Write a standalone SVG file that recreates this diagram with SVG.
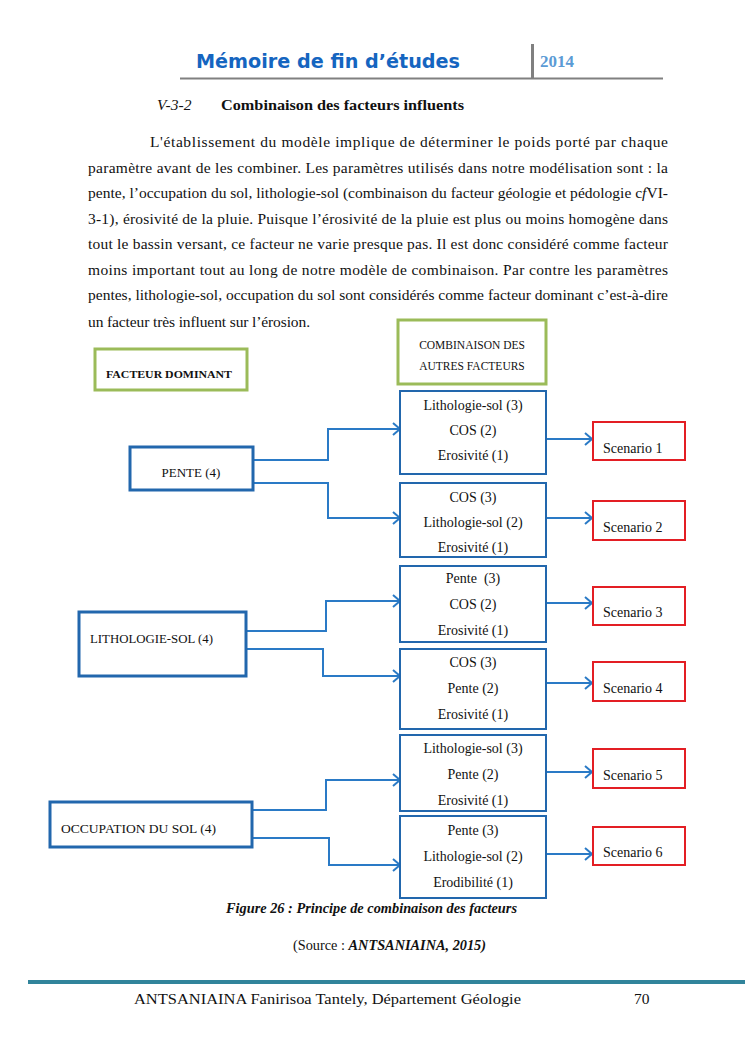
<svg xmlns="http://www.w3.org/2000/svg" width="745" height="1053" viewBox="0 0 745 1053">
<style>
.serif{font-family:"Liberation Serif","Times New Roman",serif;fill:#111}
.p{font-family:"Liberation Serif","Times New Roman",serif;font-size:15.5px;fill:#111}
.bx{font-size:14px;text-anchor:middle}
.up{font-size:13px}
.nb{fill:#fff;stroke:#2267ad;stroke-width:2}
.nbt{fill:#fff;stroke:#2267ad;stroke-width:3}
.gr{fill:#fff;stroke:#9bbb59;stroke-width:3}
.rd{fill:#fff;stroke:#e31e24;stroke-width:2}
.cn{fill:none;stroke:#2a7ac6;stroke-width:2;marker-end:url(#ah)}
</style>
<defs>
<marker id="ah" markerUnits="userSpaceOnUse" markerWidth="12" markerHeight="14" refX="9" refY="7" orient="auto">
<path d="M2,1 L9,7 L2,13" fill="none" stroke="#2a7ac6" stroke-width="2"/>
</marker>
</defs>
<rect width="745" height="1053" fill="#fff"/>
<g id="header">
<text x="196" y="68" font-family="'DejaVu Sans',sans-serif" font-weight="bold" font-size="19" fill="#1565c0" textLength="264" lengthAdjust="spacingAndGlyphs">Mémoire de fin d’études</text>
<rect x="531" y="44" width="3" height="35" fill="#808080"/>
<line x1="180" y1="78.5" x2="663" y2="78.5" stroke="#808080" stroke-width="2"/>
<text x="540" y="67" font-family="'Liberation Serif',serif" font-weight="bold" font-size="16" fill="#5b9bd5" textLength="34" lengthAdjust="spacingAndGlyphs">2014</text>
</g>
<g id="body">
<text class="p" x="157" y="110" font-style="italic">V-3-2</text>
<text class="p" x="221" y="110" font-weight="bold" textLength="243" lengthAdjust="spacingAndGlyphs">Combinaison des facteurs influents</text>
<text class="p" x="150" y="147" textLength="518" lengthAdjust="spacing">L'établissement du modèle implique de déterminer le poids porté par chaque</text>
<text class="p" x="88" y="172.5" textLength="580" lengthAdjust="spacing">paramètre avant de les combiner. Les paramètres utilisés dans notre modélisation sont : la</text>
<text class="p" x="88" y="198" textLength="580" lengthAdjust="spacing">pente, l’occupation du sol, lithologie-sol (combinaison du facteur géologie et pédologie c<tspan font-style="italic">f</tspan>VI-</text>
<text class="p" x="88" y="223.5" textLength="580" lengthAdjust="spacing">3-1), érosivité de la pluie. Puisque l’érosivité de la pluie est plus ou moins homogène dans</text>
<text class="p" x="88" y="249" textLength="580" lengthAdjust="spacing">tout le bassin versant, ce facteur ne varie presque pas. Il est donc considéré comme facteur</text>
<text class="p" x="88" y="274.5" textLength="580" lengthAdjust="spacing">moins important tout au long de notre modèle de combinaison. Par contre les paramètres</text>
<text class="p" x="88" y="300" textLength="580" lengthAdjust="spacing">pentes, lithologie-sol, occupation du sol sont considérés comme facteur dominant c’est-à-dire</text>
<text class="p" x="88" y="327" textLength="222" lengthAdjust="spacing">un facteur très influent sur l’érosion.</text>
</g>
<g id="connectors">
<path class="cn" d="M253,460 H328 V429 H400"/>
<path class="cn" d="M253,483 H328 V518 H400"/>
<path class="cn" d="M546,439 H592"/>
<path class="cn" d="M546,518 H592"/>
<path class="cn" d="M246,631 H326 V601 H400"/>
<path class="cn" d="M246,649 H323 V676 H400"/>
<path class="cn" d="M546,603 H592"/>
<path class="cn" d="M546,683 H592"/>
<path class="cn" d="M252,810 H326 V780 H400"/>
<path class="cn" d="M252,838 H329 V865 H400"/>
<path class="cn" d="M546,772 H592"/>
<path class="cn" d="M546,854 H592"/>
</g>
<g id="n-combinaison">
<rect class="gr" x="398" y="320" width="148" height="64"/>
<text class="serif" x="472" y="349" font-size="11.5" text-anchor="middle">COMBINAISON DES</text>
<text class="serif" x="472" y="370" font-size="11.5" text-anchor="middle">AUTRES FACTEURS</text>
</g>
<g id="n-facteur">
<rect class="gr" x="95" y="349" width="152" height="41"/>
<text class="serif" x="106" y="378" font-size="11" font-weight="bold" textLength="126" lengthAdjust="spacingAndGlyphs">FACTEUR DOMINANT</text>
</g>
<g id="n-pente">
<rect class="nbt" x="130" y="447" width="123" height="43"/>
<text class="serif up" x="191" y="477" text-anchor="middle">PENTE (4)</text>
</g>
<g id="n-litho">
<rect class="nbt" x="79" y="612" width="167" height="64"/>
<text class="serif up" x="90" y="643" textLength="123" lengthAdjust="spacingAndGlyphs">LITHOLOGIE-SOL (4)</text>
</g>
<g id="n-occup">
<rect class="nbt" x="50" y="802" width="202" height="45"/>
<text class="serif up" x="61" y="833" textLength="155" lengthAdjust="spacingAndGlyphs">OCCUPATION DU SOL (4)</text>
</g>
<g id="n-c1">
<rect class="nb" x="400" y="391" width="146" height="83"/>
<text class="serif bx" x="473" y="410">Lithologie-sol (3)</text>
<text class="serif bx" x="473" y="435">COS (2)</text>
<text class="serif bx" x="473" y="460">Erosivité (1)</text>
</g>
<g id="n-c2">
<rect class="nb" x="400" y="483" width="146" height="74"/>
<text class="serif bx" x="473" y="502">COS (3)</text>
<text class="serif bx" x="473" y="527">Lithologie-sol (2)</text>
<text class="serif bx" x="473" y="552">Erosivité (1)</text>
</g>
<g id="n-c3">
<rect class="nb" x="400" y="566" width="146" height="76"/>
<text class="serif bx" x="473" y="583" xml:space="preserve">Pente  (3)</text>
<text class="serif bx" x="473" y="609">COS (2)</text>
<text class="serif bx" x="473" y="635">Erosivité (1)</text>
</g>
<g id="n-c4">
<rect class="nb" x="400" y="649" width="146" height="80"/>
<text class="serif bx" x="473" y="667">COS (3)</text>
<text class="serif bx" x="473" y="693">Pente (2)</text>
<text class="serif bx" x="473" y="719">Erosivité (1)</text>
</g>
<g id="n-c5">
<rect class="nb" x="400" y="735" width="146" height="76"/>
<text class="serif bx" x="473" y="753">Lithologie-sol (3)</text>
<text class="serif bx" x="473" y="779">Pente (2)</text>
<text class="serif bx" x="473" y="805">Erosivité (1)</text>
</g>
<g id="n-c6">
<rect class="nb" x="400" y="816" width="146" height="82"/>
<text class="serif bx" x="473" y="835">Pente (3)</text>
<text class="serif bx" x="473" y="861">Lithologie-sol (2)</text>
<text class="serif bx" x="473" y="887">Erodibilité (1)</text>
</g>
<g id="n-s1"><rect class="rd" x="593" y="422" width="92" height="38"/><text class="serif" x="603" y="453" font-size="14">Scenario 1</text></g>
<g id="n-s2"><rect class="rd" x="593" y="501" width="92" height="39"/><text class="serif" x="603" y="532" font-size="14">Scenario 2</text></g>
<g id="n-s3"><rect class="rd" x="593" y="587" width="92" height="38"/><text class="serif" x="603" y="617" font-size="14">Scenario 3</text></g>
<g id="n-s4"><rect class="rd" x="593" y="662" width="92" height="39"/><text class="serif" x="603" y="693" font-size="14">Scenario 4</text></g>
<g id="n-s5"><rect class="rd" x="593" y="749" width="92" height="39"/><text class="serif" x="603" y="780" font-size="14">Scenario 5</text></g>
<g id="n-s6"><rect class="rd" x="593" y="827" width="92" height="38"/><text class="serif" x="603" y="857" font-size="14">Scenario 6</text></g>
<g id="caption">
<text class="serif" x="226" y="913" font-size="14" font-weight="bold" font-style="italic" textLength="291" lengthAdjust="spacingAndGlyphs">Figure 26 : Principe de combinaison des facteurs</text>
<text class="serif" x="293" y="950" font-size="14" textLength="193" lengthAdjust="spacingAndGlyphs">(Source : <tspan font-weight="bold" font-style="italic">ANTSANIAINA, 2015)</tspan></text>
</g>
<g id="footer">
<line x1="28" y1="982" x2="745" y2="982" stroke="#31849b" stroke-width="4"/>
<text class="serif" x="134" y="1004" font-size="15.5" textLength="387" lengthAdjust="spacingAndGlyphs">ANTSANIAINA Fanirisoa Tantely, Département Géologie</text>
<text class="serif" x="634" y="1004" font-size="15.5">70</text>
</g>
</svg>
